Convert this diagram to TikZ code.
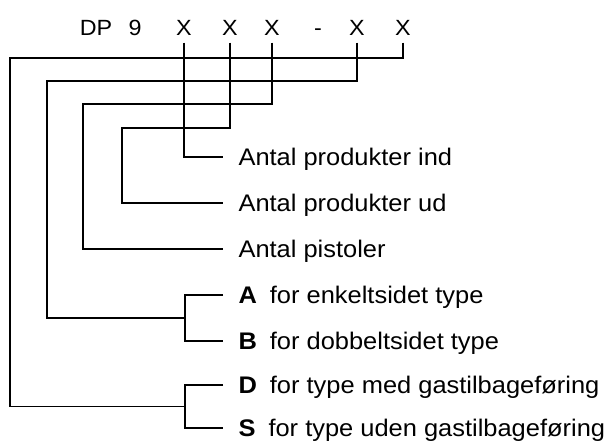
\documentclass[tikz,border=0pt]{standalone}
\usepackage{fontspec}
\setmainfont{Liberation Sans}[FakeStretch=1.06]

\begin{document}
\begin{tikzpicture}[x=1pt, y=-1pt, line width=1.1pt,
	code/.style={inner xsep=0pt, inner ysep=6.5pt, text height=16pt, text depth=0pt,
		font=\fontsize{22}{26}\selectfont},
	lbl/.style={anchor=west, inner xsep=15pt, inner ysep=0pt, text height=17pt, text depth=0pt,
		font=\fontsize{24}{28}\selectfont}]
	
	\useasboundingbox (0,0) rectangle (616,443);
	
	% --- 1. Type code ---
	\node[code] (dp) at (96,27.5) {DP};
	\node[code] (nine) at (135,27.5) {9};
	\node[code] (x1) at (184,27.5) {X};
	\node[code] (x2) at (230,27.5) {X};
	\node[code] (x3) at (272,27.5) {X};
	\node[code] (dash) at (318,27.5) {-};
	\node[code] (x4) at (357,27.5) {X};
	\node[code] (x5) at (403,27.5) {X};
	
	% --- 2. Explanations ---
	\node[lbl] (ind) at (223,157) {Antal produkter ind};
	\node[lbl] (ud) at (223,203) {Antal produkter ud};
	\node[lbl] (pist) at (223,249) {Antal pistoler};
	\node[lbl] (enk) at (223,295) {\textbf{A}\hspace{13pt}for enkeltsidet type};
	\node[lbl] (dob) at (223,341) {\textbf{B}\hspace{13pt}for dobbeltsidet type};
	\node[lbl] (med) at (223,385) {\textbf{D}\hspace{13pt}for type med gastilbageføring};
	\node[lbl] (uden) at (223,428) {\textbf{S}\hspace{13pt}for type uden gastilbageføring};
	
	% --- 3. Leader lines ---
	\coordinate (ab) at (185,318);
	\coordinate (ds) at (185,406.5);
	
	\draw (x1.south) |- (ind.west);
	\draw (x2.south) |- (122,128) |- (ud.west);
	\draw (x3.south) |- (83,104) |- (pist.west);
	\draw (x4.south) |- (47,81) |- (ab);
	\draw (x5.south) |- (10,58) |- (ds);
	
	% brackets for the letter codes
	\draw (enk.west) -| (ab) |- (dob.west);
	\draw (med.west) -| (ds) |- (uden.west);
	
\end{tikzpicture}
\end{document}
